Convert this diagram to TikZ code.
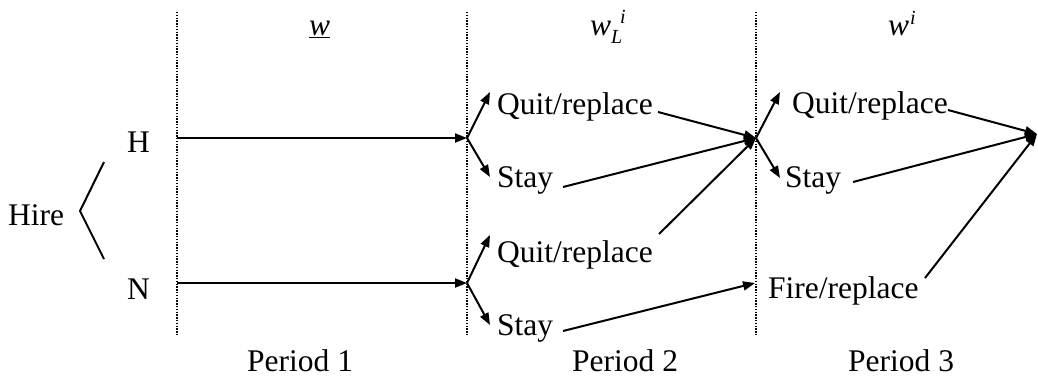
\documentclass[tikz,border=0pt]{standalone}
\usepackage{fontspec}
\setmainfont{Liberation Serif}
\usetikzlibrary{arrows.meta}
\newcommand{\scr}[1]{{\fontsize{20pt}{22pt}\selectfont\textit{#1}}}
\begin{document}
\begin{tikzpicture}[x=1pt,y=-1pt,
  lbl/.style={anchor=base west,inner sep=0pt,font=\fontsize{31.5pt}{36pt}\selectfont},
  conn/.style={line width=2pt,-{Triangle[length=12pt,width=9pt]}},
  plain/.style={line width=2pt},
  divider/.style={line width=1.4pt,dash pattern=on 1.4pt off 1.4pt}]
\useasboundingbox (0,0) rectangle (1038,378);
% dividers
\coordinate (d1t) at (177,12); \coordinate (d1b) at (177,335);
\coordinate (d2t) at (467,12); \coordinate (d2b) at (467,335);
\coordinate (d3t) at (756,12); \coordinate (d3b) at (756,335);
\draw[divider] (d1t) -- (d1b);
\draw[divider] (d2t) -- (d2b);
\draw[divider] (d3t) -- (d3b);
% headers
\node[lbl] (hw) at (309,35) {\underline{\textit{w}}};
\node[lbl] (hwl) at (590,35) {\textit{w}\rlap{\raisebox{12pt}{\hspace{9pt}\scr{i}}}\raisebox{-8pt}{\scr{L}}};
\node[lbl] (hwi) at (888,35) {\textit{w}\raisebox{11pt}{\hspace{1pt}\scr{i}}};
% left
\node[lbl] (hire) at (8,225) {Hire};
\node[lbl] (H) at (127,152) {H};
\node[lbl] (N) at (127,299) {N};
\coordinate (bt) at (104,162);
\coordinate (bv) at (80,211);
\coordinate (bb) at (104,259);
\draw[plain] (bt) -- (bv) -- (bb);
% branch points
\coordinate (hs) at (177,138);
\coordinate (ns) at (177,283);
\coordinate (b1) at (467,138);
\coordinate (b1n) at (467,283);
\coordinate (b2) at (756,138);
\coordinate (fin) at (1037,134);
% period 2 labels
\node[lbl] (q2) at (497,114) {Quit/replace};
\node[lbl] (s2) at (497,187) {Stay};
\node[lbl] (q2b) at (497,262) {Quit/replace};
\node[lbl] (s2b) at (497,335) {Stay};
% period 3 labels
\node[lbl] (q3) at (792,113) {Quit/replace};
\node[lbl] (s3) at (785,187) {Stay};
\node[lbl] (f3) at (768,298) {Fire/replace};
% periods
\node[lbl] (p1) at (247,371) {Period 1};
\node[lbl] (p2) at (572,371) {Period 2};
\node[lbl] (p3) at (848,371) {Period 3};
% arrow tips / line starts
\coordinate (q2tip) at (490,92);
\coordinate (s2tip) at (490,177);
\coordinate (q2btip) at (490,235);
\coordinate (s2btip) at (490,325);
\coordinate (q3tip) at (780,92);
\coordinate (s3tip) at (780,178);
\coordinate (f3tip) at (755,283);
\coordinate (q2e) at (658,112);
\coordinate (s2e) at (563,187);
\coordinate (q2be) at (659,234);
\coordinate (s2be) at (563,331);
\coordinate (q3e) at (948,110);
\coordinate (s3e) at (853,182);
\coordinate (f3e) at (925,278);
% connectors
\draw[conn] (hs) -- (b1);
\draw[conn] (ns) -- (b1n);
\draw[conn] (b1) -- (q2tip);
\draw[conn] (b1) -- (s2tip);
\draw[conn] (b1n) -- (q2btip);
\draw[conn] (b1n) -- (s2btip);
\draw[conn] (q2e) -- (b2);
\draw[conn] (s2e) -- (b2);
\draw[conn] (q2be) -- (b2);
\draw[conn] (s2be) -- (f3tip);
\draw[conn] (b2) -- (q3tip);
\draw[conn] (b2) -- (s3tip);
\draw[conn] (q3e) -- (fin);
\draw[conn] (s3e) -- (fin);
\draw[conn] (f3e) -- (fin);
\end{tikzpicture}
\end{document}
